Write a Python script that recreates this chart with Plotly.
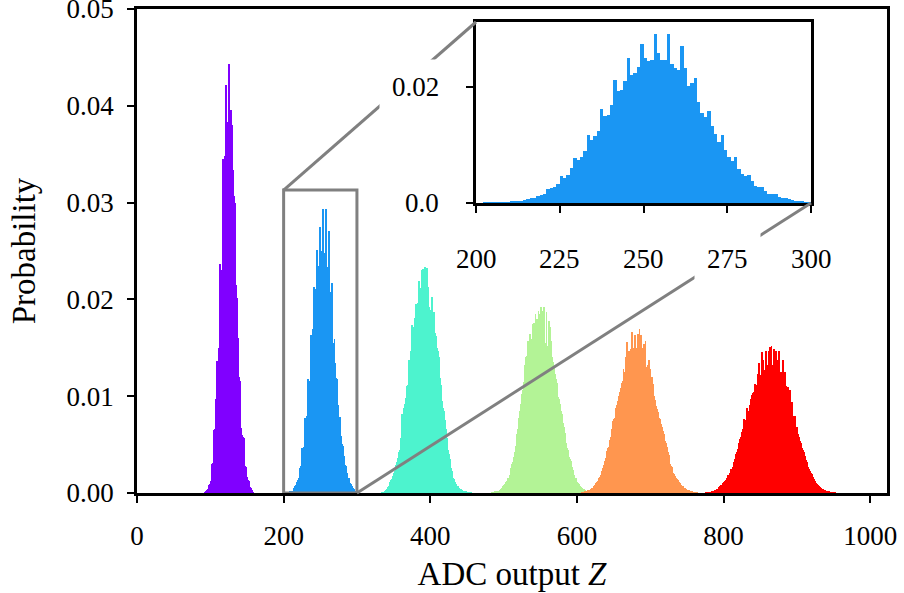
import plotly.graph_objects as go

# ---------------- data (probability per ADC code, in units of 1e-4) ----------------
UNIT = 1e-4
purple_start = 92
purple_vals = [0.5, 1, 1.5, 3, 4, 6, 8, 9, 12, 28, 30, 31, 33, 65, 66, 97, 98, 136, 135, 150,
               177, 237, 228, 230, 271, 345, 319, 348, 330, 421, 376, 383, 380, 443, 394, 362, 396, 380, 334, 282,
               307, 300, 210, 215, 201, 160, 130, 120, 116, 67, 65, 60, 58, 57, 30, 28, 27, 20, 17, 13,
               12, 10, 6, 5, 3, 2, 1]

blue_start = 200
blue_vals = [0, 0, 0.2, 0.3, 0.4, 0.6, 0.8, 1.0, 1.3, 1.6, 2, 2, 2.2, 3.5, 5, 7, 8.6, 8.6, 11.5, 13,
             15, 24, 26, 27.6, 33, 46.5, 44, 48, 61, 77.6, 74, 80, 90, 118, 109, 116, 124, 163, 150, 153,
             169, 213, 194, 195, 211, 251, 222, 224, 235, 275, 250, 245, 247, 293, 259, 248, 247, 293, 241, 233,
             230, 271, 233, 202, 208, 217, 174, 155, 149, 159, 134, 119, 105, 118, 91, 79, 72, 79, 59, 51,
             47, 49, 38, 29, 27.6, 27.6, 21, 15.5, 15.5, 15.5, 10, 9, 8, 7, 5, 4, 2.5, 2, 1, 0.5]

cyan_start = 333
cyan_vals = [0.3, 0.5, 0.7, 1, 1.5, 2, 3, 4, 5, 6, 7, 9, 11, 13, 14, 16, 18, 21, 23, 26,
             29, 32, 36, 38, 42, 44, 50, 57, 82, 70, 85, 88, 92, 98, 106, 111, 112, 120, 137, 132,
             147, 150, 174, 165, 171, 181, 178, 195, 190, 193, 196, 219, 199, 212, 202, 230, 199, 231, 202, 233,
             202, 199, 232, 198, 213, 192, 189, 183, 185, 202, 178, 173, 187, 165, 161, 162, 150, 147, 140, 133,
             119, 112, 99, 95, 88, 85, 78, 75, 66, 57, 52, 44, 40, 35, 30, 26, 23, 20, 16, 14,
             11, 10, 9, 7.6, 7, 6, 5, 4.5, 4, 3.5, 3, 2.5, 2.2, 2, 1.6, 1.3, 1, 0.8, 0.6, 0.5,
             0.4, 0.3, 0.2]

green_start = 484
green_vals = [0.3, 0.5, 0.8, 1, 1.2, 1.4, 1.6, 1.8, 2, 2.5, 3, 3.5, 4, 5, 6, 7, 8, 9, 10, 11,
              12, 13, 15, 16, 19, 23, 26, 30, 32, 35, 37, 42, 49, 55, 61, 66, 71, 78, 85, 92,
              96, 102, 106, 115, 123, 132, 140, 142, 144, 157, 150, 153, 164, 157, 159, 175, 160, 176, 161, 185,
              161, 180, 159, 188, 161, 185, 157, 192, 159, 188, 157, 192, 155, 154, 187, 152, 149, 178, 145, 171,
              142, 157, 140, 135, 130, 126, 123, 118, 114, 108, 99, 97, 92, 88, 85, 82, 76, 72, 68, 62,
              56, 52, 47, 44, 40, 37, 35, 33, 30, 26.5, 24, 21, 19, 16, 15, 13, 11, 10, 9, 8,
              7, 6, 5.5, 5, 4.5, 4, 3.5, 3, 2.5, 2, 1.6, 1.3, 1, 0.8, 0.6, 0.5, 0.4, 0.3, 0.2]

orange_start = 606
orange_vals = [0.3, 0.5, 0.8, 1, 1.3, 1.6, 2, 2.2, 2.4, 2.6, 3, 3.3, 3.6, 4, 5, 5.5, 6, 7, 8, 9,
               10, 11, 12, 13.5, 15, 17, 19, 21, 23, 26, 29, 31, 33, 36, 40, 43, 46, 48, 52, 55,
               58, 66, 70, 74, 76, 78, 84, 88, 91, 95, 94, 100, 104, 106, 108, 114, 116, 128, 122, 125,
               140, 130, 156, 135, 137, 147, 138, 149, 140, 166, 144, 150, 145, 163, 144, 150, 145, 164, 144, 169,
               142, 163, 140, 150, 137, 154, 133, 157, 130, 128, 132, 123, 137, 119, 128, 114, 120, 109, 113, 100,
               96, 90, 88, 87, 84, 82, 78, 76, 71, 70, 68, 64, 61, 57, 54, 52, 48, 44, 42, 39,
               35, 30, 28, 26.5, 24, 21, 20, 18, 17, 15, 14.5, 13, 12, 11, 10, 9, 8.5, 7.6, 7, 6,
               5.5, 4.8, 4.4, 4, 3.5, 3, 2.6, 2.4, 2, 1.7, 1.4, 1.2, 1, 0.8, 0.6, 0.5, 0.4, 0.3, 0.2]

red_start = 776
red_vals = [0.3, 0.4, 0.5, 0.7, 0.8, 0.9, 1, 1.2, 1.5, 1.8, 2, 2.2, 2.6, 3, 3.5, 4, 4.5, 6, 7, 7.5,
            8, 8.5, 9.5, 10, 11, 11.5, 12, 13, 15, 18, 18.5, 19, 21, 25, 23, 25, 27, 30, 32, 35,
            37, 40, 42, 45, 47, 52, 56, 58, 63, 61, 66, 76, 70, 73, 75, 77, 88, 82, 85, 89,
            91, 97, 101, 99, 103, 104, 113, 107, 108, 112, 123, 113, 134, 118, 122, 121, 146, 122, 137, 123,
            127, 147, 130, 132, 128, 147, 132, 151, 131, 152, 132, 130, 149, 129, 131, 147, 127, 137, 125, 147,
            122, 120, 125, 118, 111, 137, 107, 125, 104, 111, 99, 109, 96, 93, 106, 91, 89, 94, 80, 79,
            70, 80, 68, 66, 68, 61, 56, 58, 54, 52, 49, 47, 44, 42, 41, 38, 34, 32, 29, 27,
            25, 23, 22, 21, 20, 18, 16.5, 14, 12, 11, 10.5, 9.6, 8.5, 7.6, 7, 6, 5.5, 5, 4.5, 4,
            3.5, 3.2, 2.8, 2.5, 2.2, 2, 1.6, 1.4, 1.2, 1, 0.9, 0.8, 0.7, 0.6, 0.5, 0.4, 0.3]

series = [
    ("purple", purple_start, purple_vals, "#8000ff"),
    ("blue", blue_start, blue_vals, "#1a96f3"),
    ("cyan", cyan_start, cyan_vals, "#4df3ce"),
    ("green", green_start, green_vals, "#b3f396"),
    ("orange", orange_start, orange_vals, "#ff964f"),
    ("red", red_start, red_vals, "#ff0000"),
]

x_ticks = [0, 200, 400, 600, 800, 1000]
y_ticks = [0.00, 0.01, 0.02, 0.03, 0.04, 0.05]
inset_x_ticks = [200, 225, 250, 275, 300]
inset_y_ticks = [0.0, 0.02]
inset_y_labels = ["0.0", "0.02"]

# ---------------- layout constants ----------------
W, H = 904, 593
FONT = "Liberation Serif"
FS = 27
TFS = 33
X_RANGE = [0, 1023]
Y_RANGE = [0, 0.05]
IN_X = [200, 300]
IN_Y = [0, 0.0313]
MAIN_DX = [137 / W, 887 / W]
MAIN_DY = [(H - 493) / H, (H - 9) / H]
IN_DX = [476 / W, 811 / W]
IN_DY = [(H - 203) / H, (H - 22) / H]
GRAY = "#808080"

fig = go.Figure()
for name, start, vals, col in series:
    xs = list(range(start, start + len(vals)))
    ys = [v * UNIT for v in vals]
    fig.add_trace(go.Bar(x=xs, y=ys, width=1, offset=0, marker=dict(color=col, line=dict(width=0)),
                         name=name, xaxis="x", yaxis="y", hoverinfo="skip"))
    if name == "blue":
        fig.add_trace(go.Bar(x=xs, y=ys, width=1, offset=0, marker=dict(color=col, line=dict(width=0)),
                             name=name + " inset", xaxis="x2", yaxis="y2", hoverinfo="skip"))

axis_common = dict(showline=True, linecolor="black", linewidth=2.5, ticks="outside", ticklen=7,
                   tickwidth=2, tickcolor="black", showgrid=False, zeroline=False, automargin=False,
                   ticklabeloverflow="allow",
                   tickfont=dict(family=FONT, size=FS, color="black"))

fig.update_layout(
    width=W, height=H, margin=dict(l=0, r=0, t=0, b=0, autoexpand=False),
    paper_bgcolor="white", plot_bgcolor="rgba(0,0,0,0)",
    showlegend=False, barmode="overlay", bargap=0,
    font=dict(family=FONT, size=FS, color="black"),
    xaxis=dict(domain=MAIN_DX, range=X_RANGE, tickvals=x_ticks, mirror=True, anchor="y",
               ticklabelstandoff=10,
               title=dict(text="ADC output <i>Z</i>", font=dict(family=FONT, size=TFS), standoff=12),
               **axis_common),
    yaxis=dict(domain=MAIN_DY, range=Y_RANGE, tickvals=y_ticks, tickformat=".2f", mirror=True, anchor="x",
               ticklabelstandoff=8,
               title=dict(text="Probability", font=dict(family=FONT, size=TFS), standoff=22),
               **axis_common),
    xaxis2=dict(domain=IN_DX, range=IN_X, tickvals=inset_x_ticks, showticklabels=False, mirror=True,
                anchor="y2", **axis_common),
    yaxis2=dict(domain=IN_DY, range=IN_Y, tickvals=inset_y_ticks, showticklabels=False, mirror=True,
                anchor="x2", **axis_common),
)


def px_main(xv, yv):
    xp = MAIN_DX[0] + (xv - X_RANGE[0]) / (X_RANGE[1] - X_RANGE[0]) * (MAIN_DX[1] - MAIN_DX[0])
    yp = MAIN_DY[0] + (yv - Y_RANGE[0]) / (Y_RANGE[1] - Y_RANGE[0]) * (MAIN_DY[1] - MAIN_DY[0])
    return xp, yp


# zoom rectangle on main axes
fig.add_shape(type="rect", xref="x", yref="y", x0=IN_X[0], x1=IN_X[1], y0=IN_Y[0], y1=IN_Y[1],
              line=dict(color=GRAY, width=3), layer="above")
# connector lines: rect top-left -> inset top-left, rect bottom-right -> inset bottom-right
p1 = px_main(IN_X[0], IN_Y[1])
p2 = px_main(IN_X[1], IN_Y[0])
fig.add_shape(type="line", xref="paper", yref="paper", x0=p1[0], y0=p1[1], x1=IN_DX[0], y1=IN_DY[1],
              line=dict(color=GRAY, width=3), layer="above")
fig.add_shape(type="line", xref="paper", yref="paper", x0=p2[0], y0=p2[1], x1=IN_DX[1], y1=IN_DY[0],
              line=dict(color=GRAY, width=3), layer="above")

# inset tick labels with white boxes (hide connector lines behind them)
for v, lab in zip(inset_y_ticks, inset_y_labels):
    fig.add_annotation(x=0, xref="x2 domain", y=v, yref="y2", text=lab, showarrow=False,
                       xanchor="right", yanchor="middle", xshift=-24, bgcolor="white", borderpad=12,
                       font=dict(family=FONT, size=FS, color="black"))
for v in inset_x_ticks:
    fig.add_annotation(x=v, xref="x2", y=0, yref="y2 domain", text=str(v), showarrow=False,
                       xanchor="center", yanchor="middle", yshift=-56, bgcolor="white", borderpad=12,
                       font=dict(family=FONT, size=FS, color="black"))

fig.write_html("out.html")
